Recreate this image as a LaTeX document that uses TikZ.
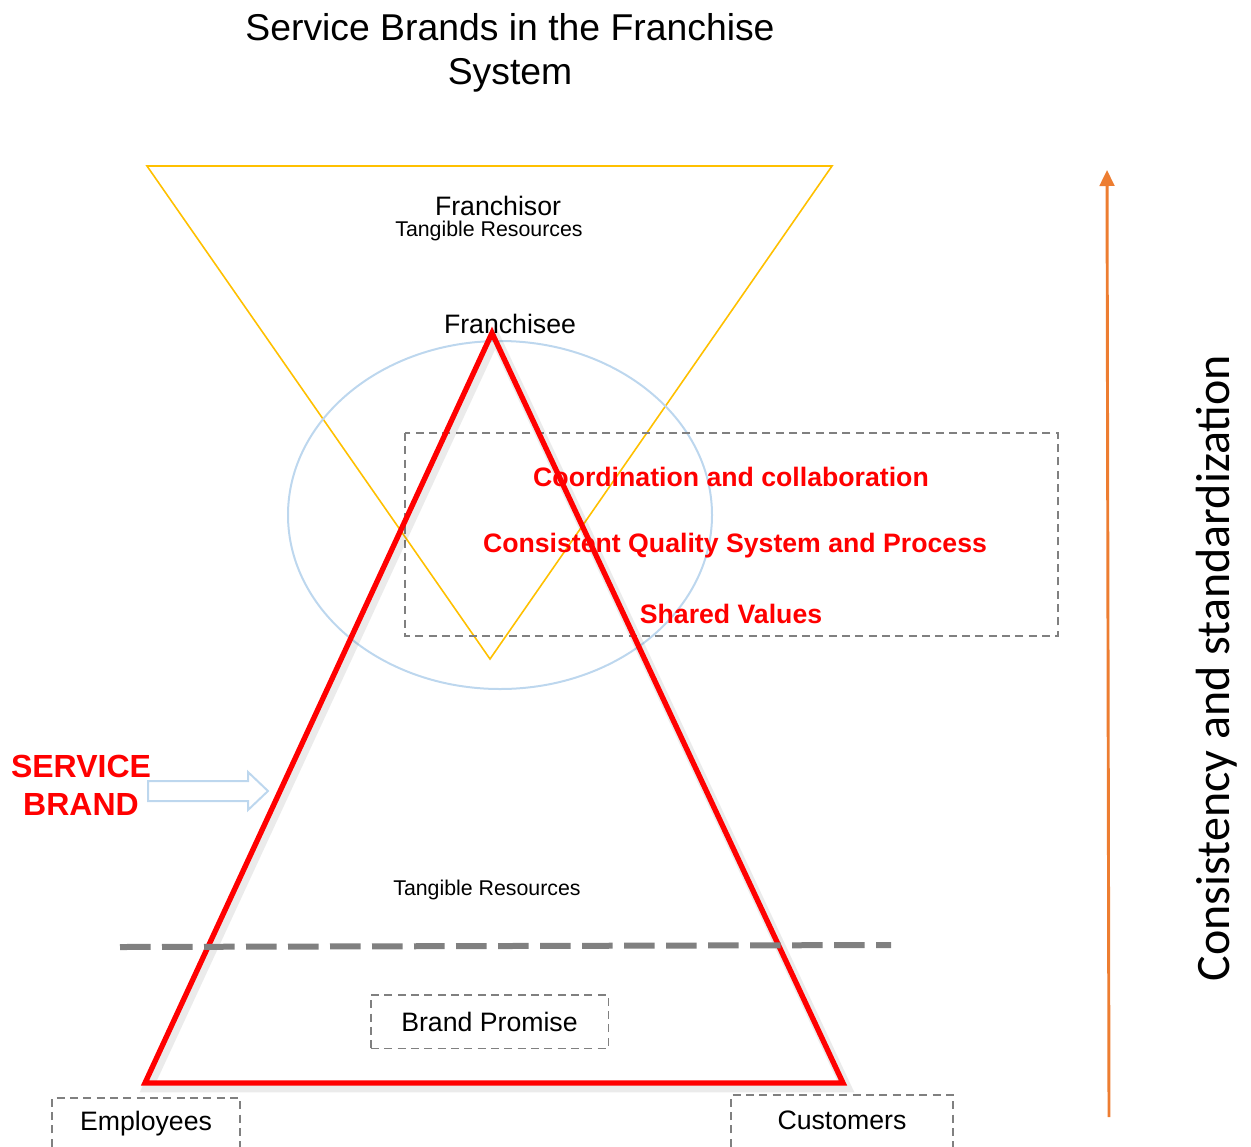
\documentclass[tikz,border=0pt]{standalone}
\usepackage{fontspec}
\setmainfont{Liberation Sans}
\newfontfamily\calibrifont{Carlito}
\usetikzlibrary{arrows.meta,shapes.geometric}
\definecolor{tyellow}{HTML}{FFC000}
\definecolor{tblue}{HTML}{BDD7EE}
\definecolor{tred}{HTML}{FF0000}
\definecolor{torange}{HTML}{ED7D31}
\definecolor{tgray}{HTML}{808080}
\tikzset{
  lbl/.style={inner sep=0pt, align=center, font=\fontsize{20}{24}\selectfont},
  small/.style={inner sep=0pt, align=center, font=\fontsize{16}{18}\selectfont},
  redlbl/.style={inner sep=0pt, text=tred, font=\bfseries\fontsize{20}{24}\selectfont},
  dbox/.style={draw=tgray, dashed, dash pattern=on 6pt off 4pt, line width=1pt},
}
\begin{document}
\begin{tikzpicture}[x=0.75pt,y=-0.75pt]
\useasboundingbox (0,0) rectangle (1251,1146);
% title
\node[inner sep=0pt, align=center, font=\fontsize{28}{33}\selectfont] (title) at (510,53) {Service Brands in the Franchise\\System};
% yellow inverted triangle
\coordinate (yl) at (147,166);
\coordinate (yr) at (832,166);
\coordinate (yb) at (490,659);
\draw[tyellow, line width=1.2pt, line join=miter] (yl) -- (yr) -- (yb) -- cycle;
% ellipse
\draw[tblue, line width=1.5pt] (500,515) ellipse [x radius=212, y radius=174];
% dashed box
\draw[dbox] (405,433) rectangle (1058,636);
% red triangle shadow
\coordinate (ra) at (492,333);
\coordinate (rl) at (145,1083);
\coordinate (rr) at (843,1083);
\draw[black, opacity=0.08, line width=8pt, line join=miter, shift={(3,4)}] (492,333) -- (145,1083) -- (843,1083) -- cycle;
\draw[tred, line width=4pt, line join=miter] (ra) -- (rl) -- (rr) -- cycle;
% dashed thick gray line
\coordinate (dl) at (120,947);
\coordinate (dr) at (891,945);
\draw[tgray, line width=4.5pt, dash pattern=on 23pt off 8.5pt] (dl) -- (dr);
% labels
\node[lbl] (franchisor) at (498,206) {Franchisor};
\node[small] (tr1) at (489,231) {Tangible Resources};
\node[lbl] (franchisee) at (510,324) {Franchisee};
\node[redlbl] (coord) at (731,477) {Coordination and collaboration};
\node[redlbl] (cqs) at (735,546) {Consistent Quality System and Process};
\node[redlbl] (shared) at (731,614) {Shared Values};
\node[small] (tr2) at (487,890) {Tangible Resources};
% brand promise box
\node[lbl, dbox, minimum width=178pt, minimum height=40pt, inner sep=0pt] (bp) at (489.5,1021.5) {Brand Promise};
% bottom boxes
\draw[dbox] (52,1160) -- (52,1098) -- (240,1098) -- (240,1160);
\node[lbl] (emp) at (146,1124) {Employees};
\draw[dbox] (731,1160) -- (731,1095) -- (953,1095) -- (953,1160);
\node[lbl] (cust) at (842,1120) {Customers};
% service brand
\node[inner sep=0pt, align=center, text=tred, font=\bfseries\fontsize{24}{28.5}\selectfont] (sb) at (81,785) {SERVICE\\BRAND};
\coordinate (sa) at (148,790);
\draw[tblue, line width=1.5pt, line join=miter] (148,781) -- (248,781) -- (248,772) -- (268,791) -- (248,810) -- (248,801) -- (148,801) -- cycle;
% orange arrow
\coordinate (ob) at (1109,1117);
\coordinate (ot) at (1107,170);
\draw[torange, line width=2.2pt, -{Triangle[length=12pt,width=11pt]}] (ob) -- (ot);
% vertical text
\node[inner sep=0pt, rotate=90, font=\calibrifont\fontsize{36}{40}\selectfont] (cons) at (1217,668) {Consistency and standardization};
\end{tikzpicture}
\end{document}
